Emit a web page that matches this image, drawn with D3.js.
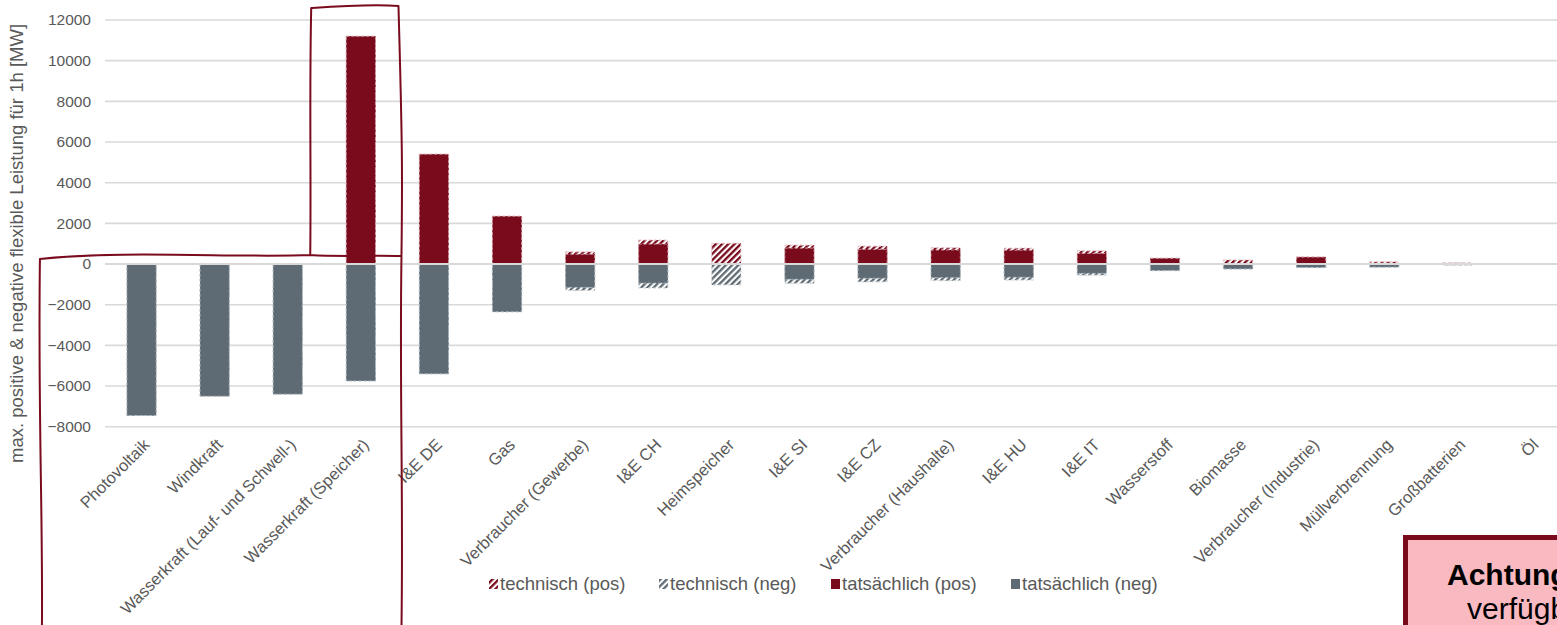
<!DOCTYPE html>
<html>
<head>
<meta charset="utf-8">
<script src="https://cdn.jsdelivr.net/npm/d3@7/dist/d3.min.js"></script>
<style>
  html, body { margin: 0; padding: 0; background: #ffffff; overflow: hidden; }
  svg { display: block; font-family: "Liberation Sans", Arial, sans-serif; }
</style>
</head>
<body>
<svg id="chart" width="1557" height="625"></svg>
<script>
// Flexibility sources, sorted by size
const categories = [
  "Photovoltaik", "Windkraft", "Wasserkraft (Lauf- und Schwell-)", "Wasserkraft (Speicher)",
  "I&E DE", "Gas", "Verbraucher (Gewerbe)", "I&E CH", "Heimspeicher", "I&E SI", "I&E CZ",
  "Verbraucher (Haushalte)", "I&E HU", "I&E IT", "Wasserstoff", "Biomasse",
  "Verbraucher (Industrie)", "Müllverbrennung", "Großbatterien", "Öl"
];

// Technical potential (MW)
const technischPos = [0, 0, 0, 11200, 5400, 2350, 600, 1180, 1020, 930, 880, 800, 780, 650, 290, 200, 350, 110, 60, 0];
const technischNeg = [-7450, -6500, -6400, -5750, -5400, -2350, -1300, -1180, -1030, -950, -880, -820, -790, -550, -330, -250, -180, -160, -60, 0];

// Actually available (MW)
const tatsaechlichPos = [0, 0, 0, 11200, 5400, 2350, 480, 980, 0, 780, 720, 690, 680, 520, 280, 0, 340, 0, 0, 0];
const tatsaechlichNeg = [-7450, -6500, -6400, -5750, -5400, -2350, -1150, -940, 0, -750, -700, -670, -650, -460, -320, -240, -170, -150, 0, 0];

const yTicks = [12000, 10000, 8000, 6000, 4000, 2000, 0, -2000, -4000, -6000, -8000];

const legendItems = [
  { label: "technisch (pos)", kind: "hatchRed" },
  { label: "technisch (neg)", kind: "hatchGray" },
  { label: "tatsächlich (pos)", kind: "solidRed" },
  { label: "tatsächlich (neg)", kind: "solidGray" }
];

const RED = "#7a0b1d";
const GRAY = "#5e6b74";
const GRID = "#d9d9d9";
const TEXT = "#595959";

const svg = d3.select("#chart");
const W = 1557, H = 625;

const margin = { left: 105, top: 20, right: -10, bottom: 198 };

const x = d3.scaleBand()
  .domain(categories)
  .range([margin.left, W - margin.right])
  .paddingInner(0.6)
  .paddingOuter(0.3);

const y = d3.scaleLinear()
  .domain([-8000, 12000])
  .range([H - margin.bottom - 0.3, margin.top]);

// Hatch patterns
const defs = svg.append("defs");
function hatch(id, color) {
  const p = defs.append("pattern")
    .attr("id", id)
    .attr("patternUnits", "userSpaceOnUse")
    .attr("width", 4.4).attr("height", 4.4)
    .attr("patternTransform", "rotate(45)");
  p.append("rect").attr("width", 4.4).attr("height", 4.4).attr("fill", "#ffffff");
  p.append("rect").attr("width", 2.3).attr("height", 4.4).attr("fill", color);
}
hatch("hatch-red", RED);
hatch("hatch-gray", GRAY);

// Gridlines
svg.append("g")
  .selectAll("line")
  .data(yTicks.filter(d => d !== 0))
  .join("line")
  .attr("x1", margin.left).attr("x2", W)
  .attr("y1", d => y(d)).attr("y2", d => y(d))
  .attr("stroke", GRID).attr("stroke-width", 1.6);

// Y axis labels
const yAxis = d3.axisLeft(y).tickValues(yTicks).tickSize(0).tickPadding(0).tickFormat(d3.format("d"));
const gy = svg.append("g")
  .attr("transform", `translate(${margin.left - 14},0)`)
  .call(yAxis);
gy.select(".domain").remove();
gy.selectAll("text")
  .attr("fill", TEXT)
  .style("font-size", "15.5px")
  .style("font-family", "'Liberation Sans', Arial, sans-serif");

// Y axis title
svg.append("text")
  .attr("transform", `translate(23,${(y(12000) + 467) / 2}) rotate(-90)`)
  .attr("text-anchor", "middle")
  .attr("fill", TEXT)
  .style("font-size", "18.5px")
  .text("max. positive & negative flexible Leistung für 1h [MW]");

const rows = categories.map((c, i) => ({
  c,
  tp: technischPos[i], tn: technischNeg[i],
  ap: tatsaechlichPos[i], an: tatsaechlichNeg[i]
}));

const bw = x.bandwidth();

// Technical potential bars (hatched, behind)
const techG = svg.append("g");
techG.selectAll("rect.tp")
  .data(rows.filter(d => d.tp > 0))
  .join("rect")
  .attr("class", "tp")
  .attr("x", d => x(d.c)).attr("width", bw)
  .attr("y", d => y(d.tp)).attr("height", d => y(0) - y(d.tp))
  .attr("fill", "url(#hatch-red)")
  .attr("stroke", "#e6c2c7").attr("stroke-width", 1).attr("stroke-dasharray", "3,2");
techG.selectAll("rect.tn")
  .data(rows.filter(d => d.tn < 0))
  .join("rect")
  .attr("class", "tn")
  .attr("x", d => x(d.c)).attr("width", bw)
  .attr("y", y(0)).attr("height", d => y(d.tn) - y(0))
  .attr("fill", "url(#hatch-gray)")
  .attr("stroke", "#ccd2d6").attr("stroke-width", 1).attr("stroke-dasharray", "3,2");

// Actual availability bars (solid, in front)
const actG = svg.append("g");
actG.selectAll("rect.ap")
  .data(rows.filter(d => d.ap > 0))
  .join("rect")
  .attr("class", "ap")
  .attr("x", d => x(d.c)).attr("width", bw)
  .attr("y", d => y(d.ap)).attr("height", d => y(0) - y(d.ap))
  .attr("fill", RED)
  .attr("stroke", "#d7a9b0").attr("stroke-width", 0.8).attr("stroke-dasharray", "3,2");
actG.selectAll("rect.an")
  .data(rows.filter(d => d.an < 0))
  .join("rect")
  .attr("class", "an")
  .attr("x", d => x(d.c)).attr("width", bw)
  .attr("y", y(0)).attr("height", d => y(d.an) - y(0))
  .attr("fill", GRAY)
  .attr("stroke", "#b7c0c6").attr("stroke-width", 0.8).attr("stroke-dasharray", "3,2");

// Zero line over the bars
svg.append("line")
  .attr("x1", margin.left).attr("x2", W)
  .attr("y1", y(0)).attr("y2", y(0))
  .attr("stroke", GRID).attr("stroke-width", 2);

// Category labels
svg.append("g")
  .selectAll("text")
  .data(categories)
  .join("text")
  .attr("transform", d => `translate(${x(d) + bw / 2 + 5},${y(-8000) + 15}) rotate(-45)`)
  .attr("text-anchor", "end")
  .attr("dy", "0.35em")
  .attr("fill", TEXT)
  .style("font-size", "16.5px")
  .text(d => d);

// Legend
const legendX = [489, 659, 831, 1011];
const lg = svg.append("g");
legendItems.forEach((it, i) => {
  const gx = legendX[i];
  const fill = it.kind === "hatchRed" ? "url(#hatch-red)"
    : it.kind === "hatchGray" ? "url(#hatch-gray)"
    : it.kind === "solidRed" ? RED : GRAY;
  lg.append("rect")
    .attr("x", gx).attr("y", 579).attr("width", 9).attr("height", 10)
    .attr("fill", fill);
  lg.append("text")
    .attr("x", gx + 11).attr("y", 584)
    .attr("dy", "0.35em")
    .attr("fill", TEXT)
    .style("font-size", "18.5px")
    .text(it.label);
});

// Hand-drawn highlight around the largest flexibility sources
const sx0 = x(categories[0]) - 87;
const sx1 = x("Wasserkraft (Speicher)") - 35;
const sx2 = x("Wasserkraft (Speicher)") + bw + 25;
const sy0 = 7;
const sy1 = y(0) - 8;
const sy2 = H + 4;
const hl = d3.path();
hl.moveTo(sx0 + 2, sy2);
hl.bezierCurveTo(sx0 + 3, sy2 - 120, sx0 - 2, sy1 + 160, sx0, sy1 + 3);
hl.bezierCurveTo(sx0 + 80, sy1 - 6, sx0 + 200, sy1 + 2, sx1 - 1, sy1 - 1);
hl.bezierCurveTo(sx1, sy1 - 80, sx1 - 2, sy0 + 90, sx1, sy0 + 1);
hl.bezierCurveTo(sx1 + 30, sy0 - 1, sx2 - 30, sy0 - 3, sx2 - 2, sy0 - 1);
hl.bezierCurveTo(sx2 + 2, sy0 + 140, sx2 + 2, sy1 - 80, sx2 + 1, sy1);
hl.bezierCurveTo(sx2 - 1, sy1 + 140, sx2 + 3, sy2 - 140, sx2 + 1, sy2);
hl.moveTo(sx1 - 1, sy1 - 1);
hl.bezierCurveTo(sx1 + 30, sy1 + 1, sx2 - 30, sy1 - 1, sx2 + 1, sy1);
svg.append("path")
  .attr("d", hl.toString())
  .attr("fill", "none")
  .attr("stroke", RED)
  .attr("stroke-width", 2)
  .attr("stroke-linejoin", "round");

// Warning note box (runs past the right edge of the page)
const note = svg.append("g");
note.append("rect")
  .attr("x", 1405.5).attr("y", 537.5)
  .attr("width", 220).attr("height", 140)
  .attr("fill", "#f9b9c1")
  .attr("stroke", RED).attr("stroke-width", 5);
note.append("text")
  .attr("x", 1447).attr("y", 585)
  .attr("fill", "#000000")
  .style("font-size", "30px").style("font-weight", "bold")
  .text("Achtung:");
note.append("text")
  .attr("x", 1467).attr("y", 619)
  .attr("fill", "#000000")
  .style("font-size", "30px")
  .text("verfügbar");
</script>
</body>
</html>
